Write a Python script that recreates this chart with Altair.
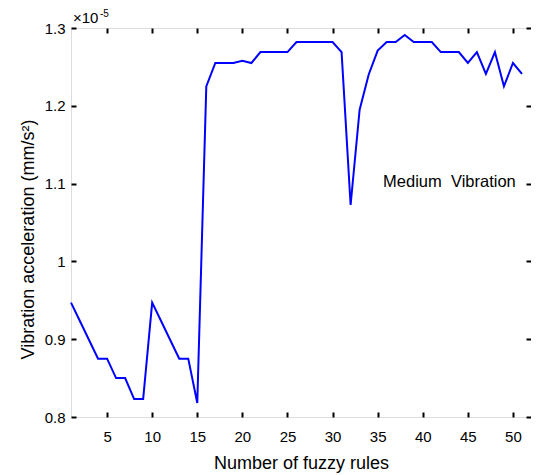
import altair as alt
import pandas as pd

# values (units of 1e-5 mm/s^2)
accel = [0.947, 0.923, 0.899, 0.875, 0.875, 0.850, 0.850, 0.823, 0.823, 0.947,
         0.923, 0.899, 0.875, 0.875, 0.818, 1.225, 1.255, 1.255, 1.255, 1.258,
         1.255, 1.269, 1.269, 1.269, 1.269, 1.282, 1.282, 1.282, 1.282, 1.282,
         1.269, 1.0725, 1.195, 1.240, 1.271, 1.282, 1.282, 1.291, 1.282, 1.282,
         1.282, 1.269, 1.269, 1.269, 1.255, 1.269, 1.241, 1.269, 1.225, 1.255,
         1.241]
rules = list(range(1, len(accel) + 1))
x_ticks = [5, 10, 15, 20, 25, 30, 35, 40, 45, 50]
y_ticks = [0.8, 0.9, 1.0, 1.1, 1.2, 1.3]

df = pd.DataFrame({"n": rules, "v": accel})

FONT = "Liberation Sans"
xscale = alt.Scale(domain=[1, 52], nice=False, zero=False)
yscale = alt.Scale(domain=[0.8, 1.3], nice=False, zero=False)

common = dict(domain=False, grid=False, offset=-5, tickSize=5, tickWidth=2,
              tickColor="black", labelFont=FONT, labelFontSize=15,
              labelColor="black", titleFont=FONT, titleFontSize=18,
              titleFontWeight="normal", titleColor="black")

bottom_axis = alt.Axis(orient="bottom", values=x_ticks, labelPadding=12,
                       title="Number of fuzzy rules", titleBaseline="alphabetic",
                       titleY=56, **common)
left_axis = alt.Axis(orient="left", values=y_ticks, format=".1~f", labelPadding=6,
                     title="Vibration acceleration (mm/s²)", titleBaseline="alphabetic",
                     titleX=-43, titleY=211, titleAngle=270, **common)
top_axis = alt.Axis(orient="top", values=x_ticks, labels=False, title=None, **common)
right_axis = alt.Axis(orient="right", values=y_ticks, labels=False, title=None, **common)

line = alt.Chart(df).mark_line(color="#0000FF", strokeWidth=2).encode(
    x=alt.X("n:Q", scale=xscale, axis=bottom_axis),
    y=alt.Y("v:Q", scale=yscale, axis=left_axis),
)
mirror = alt.Chart(df).mark_point(opacity=0).encode(
    x=alt.X("n:Q", scale=xscale, axis=top_axis),
    y=alt.Y("v:Q", scale=yscale, axis=right_axis),
)

label_df = pd.DataFrame({"n": [35.6], "v": [1.102], "t": ["Medium\u00a0\u00a0Vibration"]})
label = alt.Chart(label_df).mark_text(align="left", baseline="middle", font=FONT,
                                      fontSize=16.5, color="black").encode(
    x=alt.X("n:Q", scale=xscale, axis=None),
    y=alt.Y("v:Q", scale=yscale, axis=None),
    text="t:N")

one = pd.DataFrame({"a": [0]})
exp_base = alt.Chart(one).mark_text(align="left", baseline="alphabetic", font=FONT,
                                    fontSize=15, color="black", text="×10").encode(
    x=alt.value(2), y=alt.value(-5))
exp_sup = alt.Chart(one).mark_text(align="left", baseline="alphabetic", font=FONT,
                                   fontSize=10, color="black", text="-5").encode(
    x=alt.value(29), y=alt.value(-11))
caption = alt.Chart(one).mark_text(align="left", baseline="alphabetic", font="Liberation Serif",
                                   fontSize=19, color="black",
                                   text="Fig. 8. Variation of vibration acceleration with rules").encode(
    x=alt.value(29), y=alt.value(462))

chart = alt.layer(line, mirror, label, exp_base, exp_sup, caption).resolve_axis(
    x="independent", y="independent"
).properties(
    width=460, height=389,
    autosize=alt.AutoSizeParams(type="none"),
    padding={"left": 63, "top": 20, "right": 0, "bottom": 58},
).configure_view(stroke="black", strokeWidth=2).configure(background="white")

chart.save("out.html", embed_options={"renderer": "svg", "actions": False})
